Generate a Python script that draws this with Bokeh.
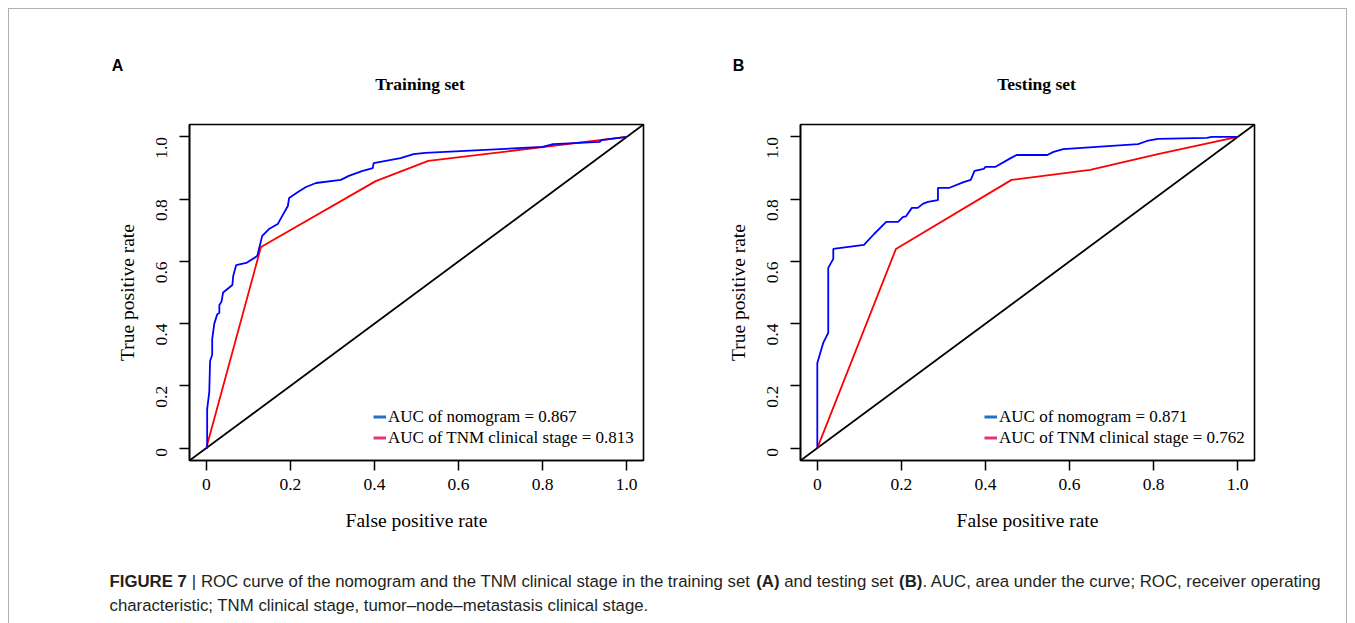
import math
from bokeh.plotting import figure
from bokeh.layouts import column, row
from bokeh.models import Range1d, FixedTicker, Legend, LegendItem, Div
from bokeh.core.properties import value
from bokeh.embed import file_html
from bokeh.resources import INLINE

# ---------------- data ----------------
train_nomo_fpr = [0, 0.002, 0.002, 0.007, 0.009, 0.014, 0.014, 0.019, 0.026, 0.031, 0.031, 0.036, 0.040,
                  0.062, 0.064, 0.071, 0.095, 0.121, 0.133, 0.149, 0.170, 0.178, 0.194, 0.197, 0.218,
                  0.237, 0.261, 0.320, 0.339, 0.372, 0.396, 0.398, 0.462, 0.493, 0.521, 0.800, 0.825,
                  0.936, 0.940, 1.0]
train_nomo_tpr = [0, 0.0, 0.125, 0.18, 0.28, 0.30, 0.35, 0.40, 0.43, 0.434, 0.46, 0.47, 0.50,
                  0.524, 0.553, 0.588, 0.595, 0.617, 0.682, 0.704, 0.720, 0.740, 0.778, 0.804, 0.823,
                  0.839, 0.852, 0.862, 0.875, 0.891, 0.900, 0.916, 0.932, 0.945, 0.949, 0.968, 0.977,
                  0.984, 0.990, 1.0]
train_tnm_fpr = [0, 0.13, 0.403, 0.528, 1.0]
train_tnm_tpr = [0, 0.646, 0.858, 0.923, 1.0]

test_nomo_fpr = [0, 0, 0.014, 0.026, 0.026, 0.038, 0.038, 0.111, 0.135, 0.164, 0.192, 0.204, 0.211,
                 0.225, 0.239, 0.251, 0.263, 0.287, 0.287, 0.313, 0.348, 0.365, 0.374, 0.396, 0.400,
                 0.424, 0.460, 0.474, 0.547, 0.562, 0.585, 0.763, 0.784, 0.810, 0.927, 0.938, 1.0]
test_nomo_tpr = [0, 0.273, 0.338, 0.37, 0.579, 0.608, 0.64, 0.653, 0.688, 0.727, 0.727, 0.743, 0.745,
                 0.772, 0.772, 0.785, 0.791, 0.797, 0.836, 0.836, 0.855, 0.862, 0.891, 0.897, 0.904,
                 0.904, 0.932, 0.942, 0.942, 0.952, 0.961, 0.977, 0.987, 0.994, 0.997, 1.0, 1.0]
test_tnm_fpr = [0, 0.187, 0.462, 0.649, 0.81, 1.0]
test_tnm_tpr = [0, 0.64, 0.862, 0.894, 0.945, 1.0]

ticks = [0, 0.2, 0.4, 0.6, 0.8, 1.0]
tick_labels = ["0", "0.2", "0.4", "0.6", "0.8", "1.0"]
diag = [-0.04, 1.04]
panel_letters = ["A", "B"]
panel_titles = ["Training set", "Testing set"]

SERIF = "Liberation Serif"
SANS = "Liberation Sans"


def make_panel(nomo_x, nomo_y, tnm_x, tnm_y, auc_nomo, auc_tnm, width, left, right):
    p = figure(width=width, height=445, output_backend="svg", toolbar_location=None,
               x_range=Range1d(-0.04, 1.04), y_range=Range1d(-0.04, 1.04),
               min_border_left=left, min_border_right=right,
               min_border_top=24, min_border_bottom=85)
    p.grid.visible = False
    p.outline_line_color = "black"
    p.outline_line_width = 1.6
    p.background_fill_color = "white"
    p.border_fill_color = "white"

    overrides = {t: s for t, s in zip(ticks, tick_labels)}
    for ax in (p.xaxis[0], p.yaxis[0]):
        ax.ticker = FixedTicker(ticks=ticks)
        ax.major_label_overrides = overrides
        ax.minor_tick_line_color = None
        ax.major_tick_out = 10
        ax.major_tick_in = 0
        ax.major_tick_line_width = 1.5
        ax.major_tick_line_color = "black"
        ax.axis_line_color = "black"
        ax.axis_line_width = 1.6
        ax.major_label_text_font = SERIF
        ax.major_label_text_font_size = "17.5px"
        ax.major_label_text_color = "black"
        ax.axis_label_text_font = SERIF
        ax.axis_label_text_font_size = "19.5px"
        ax.axis_label_text_font_style = "normal"
        ax.axis_label_text_color = "black"
    p.xaxis.axis_label = "False positive rate"
    p.xaxis.major_label_standoff = 8
    p.xaxis.axis_label_standoff = 17
    p.yaxis.axis_label = "True positive rate"
    p.yaxis.major_label_orientation = math.pi / 2
    p.yaxis.major_label_standoff = 18
    p.yaxis.axis_label_standoff = 10

    p.line(diag, diag, line_color="black", line_width=1.8)
    p.line(tnm_x, tnm_y, line_color="#ff0000", line_width=1.8)
    p.line(nomo_x, nomo_y, line_color="#0000ff", line_width=1.8)

    # legend keys (drawn off-screen; only their legend swatches are visible)
    k1 = p.line([-5, -4], [-5, -4], line_color="#1f72c4", line_width=3)
    k2 = p.line([-5, -4], [-5, -4], line_color="#e8327c", line_width=3)
    leg = Legend(items=[LegendItem(label="AUC of nomogram = " + auc_nomo, renderers=[k1]),
                        LegendItem(label="AUC of TNM clinical stage = " + auc_tnm, renderers=[k2])],
                 location=(184, 12), margin=0, padding=0, spacing=0,
                 glyph_width=13, label_standoff=2, label_height=21, glyph_height=21,
                 background_fill_alpha=0, border_line_color=None,
                 label_text_font=SERIF, label_text_font_size="17px", label_text_color="black")
    p.add_layout(leg)
    return p


pA = make_panel(train_nomo_fpr, train_nomo_tpr, train_tnm_fpr, train_tnm_tpr,
                "0.867", "0.813", 677, 189, 34)
pB = make_panel(test_nomo_fpr, test_nomo_tpr, test_tnm_fpr, test_tnm_tpr,
                "0.871", "0.762", 678, 123, 101)


def text_strip(height):
    f = figure(width=1355, height=height, output_backend="svg", toolbar_location=None,
               x_range=Range1d(0, 1355), y_range=Range1d(height, 0),
               min_border=0, min_border_left=0, min_border_right=0,
               min_border_top=0, min_border_bottom=0)
    f.axis.visible = False
    f.grid.visible = False
    f.outline_line_color = None
    f.border_fill_color = "white"
    return f


# header with panel letters and titles
head = text_strip(100)
head.text(x=[117, 738], y=[65, 65], text=panel_letters, text_font=value(SANS),
          text_font_style="bold", text_font_size="16px", text_color="black",
          text_align="center", text_baseline="middle")
head.text(x=[419.5, 1036], y=[83, 83], text=panel_titles, text_font=value(SERIF),
          text_font_style="bold", text_font_size="17.5px", text_color="black",
          text_align="center", text_baseline="middle")

# caption
cap = text_strip(78)
FS = 16.8
k = FS / 16.0
w_fig = 74 * k
sp = 0.278 * FS
w_seg2 = 533 * k
w_ab = 1.388 * FS
w_and = 6.56 * FS
x1 = 109
x2 = x1 + w_fig + sp
x3 = x2 + w_seg2 + sp
x4 = x3 + w_ab + sp
x5 = x4 + w_and + sp
x6 = x5 + w_ab
seg_x = [x1, x2, x3, x4, x5, x6, 109]
seg_y = [36, 36, 36, 36, 36, 36, 60]
seg_t = ["FIGURE 7", "| ROC curve of the nomogram and the TNM clinical stage in the training set",
         "(A)", "and testing set", "(B)", ". AUC, area under the curve; ROC, receiver operating",
         "characteristic; TNM clinical stage, tumor\u2013node\u2013metastasis clinical stage."]
seg_b = [True, False, True, False, True, False, False]
for x, y, t, b in zip(seg_x, seg_y, seg_t, seg_b):
    cap.text(x=[x], y=[y], text=[t], text_font=value(SANS), text_font_size=f"{FS}px",
             text_font_style="bold" if b else "normal", text_color="#231f20",
             text_align="left", text_baseline="middle")

frame = Div(text="", width=10, height=10,
            styles={"position": "absolute", "left": "3px", "top": "3px", "width": "1339px",
                    "height": "640px", "border": "1.5px solid #b0b0b0", "pointer-events": "none",
                    "z-index": "10"})

layout = column(head, row(pA, pB), cap, frame)
open("out.html", "w").write(file_html(layout, INLINE))
